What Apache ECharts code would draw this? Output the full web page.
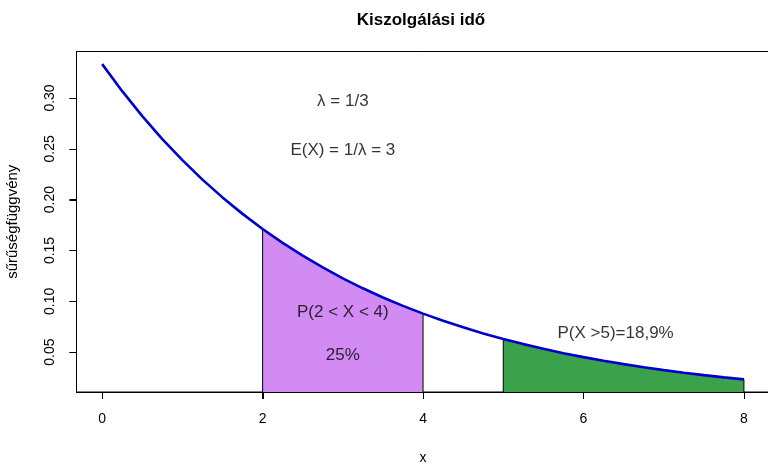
<!DOCTYPE html>
<html>
<head>
<meta charset="utf-8">
<script src="https://cdn.jsdelivr.net/npm/echarts@6/dist/echarts.min.js"></script>
<style>html,body{margin:0;padding:0;background:#fff}#c{width:768px;height:462px}</style>
</head>
<body>
<div id="c"></div>
<script>
// density curve
const xs = [0,0.25,0.5,0.75,1,1.25,1.5,1.75,2,2.25,2.5,2.75,3,3.25,3.5,3.75,4,4.25,4.5,4.75,5,5.25,5.5,5.75,6,6.25,6.5,6.75,7,7.25,7.5,7.75,8];
const ys = [0.3333,0.3067,0.2821,0.2596,0.2388,0.2197,0.2022,0.1860,0.1711,0.1575,0.1449,0.1333,0.1226,0.1128,0.1038,0.0955,0.0879,0.0808,0.0744,0.0684,0.0630,0.0579,0.0533,0.0490,0.0451,0.0415,0.0382,0.0351,0.0323,0.0297,0.0274,0.0252,0.0232];
const xTicks = [0,2,4,6,8];
const yTicks = [0.05,0.10,0.15,0.20,0.25,0.30];
const region1 = [2,4];
const region2 = [5,8];
const annotText = ['λ = 1/3','E(X) = 1/λ = 3','P(2 < X < 4)','25%','P(X >5)=18,9%'];
const annotX = [3,3,3,3,6.4];
const annotY = [0.297,0.249,0.089,0.047,0.069];

const XMIN = -0.32, XMAX = 8.32, YMIN = 0.0108, YMAX = 0.3457;
const curve = xs.map((x,i)=>[x,ys[i]]);
function polygon(a,b){
  const pts = curve.filter(p=>p[0]>=a&&p[0]<=b);
  return [[a,0]].concat(pts,[[b,0]]);
}
const FONT = '"Liberation Sans", Arial, sans-serif';
const TICK = 7;
const chart = echarts.init(document.getElementById('c'), null, {renderer:'canvas'});
chart.setOption({
  animation:false,
  backgroundColor:'#fff',
  title:{text:'Kiszolgálási idő', left:416, top:7, textAlign:'center',
    textStyle:{fontFamily:FONT,fontSize:17,fontWeight:'bold',color:'#000'}},
  grid:{left:76.5, right:-1.6, top:51.5, bottom:70, show:true, borderColor:'#000', borderWidth:1,
    backgroundColor:'transparent', containLabel:false, outerBoundsMode:'none'},
  xAxis:{type:'value', min:XMIN, max:XMAX, name:'x', nameLocation:'middle', nameGap:59,
    nameTextStyle:{fontFamily:FONT,fontSize:14,color:'#000'},
    axisLine:{show:true, onZero:false, lineStyle:{color:'#000',width:1}}, splitLine:{show:false},
    axisTick:{show:true, inside:false, length:TICK, customValues:xTicks, lineStyle:{color:'#000',width:1}},
    axisLabel:{customValues:xTicks, margin:20, fontFamily:FONT, fontSize:14, color:'#000'}},
  yAxis:{type:'value', min:YMIN, max:YMAX, name:'sűrűségfüggvény', nameLocation:'middle', nameGap:56, nameRotate:90,
    nameTextStyle:{fontFamily:FONT,fontSize:15,color:'#000'},
    axisLine:{show:true, onZero:false, lineStyle:{color:'#000',width:1}}, splitLine:{show:false},
    axisTick:{show:true, inside:false, length:TICK, customValues:yTicks, lineStyle:{color:'#000',width:1}},
    axisLabel:{customValues:yTicks, rotate:90, margin:26, align:'center', verticalAlign:'middle',
      fontFamily:FONT, fontSize:14, color:'#000', formatter:v=>v.toFixed(2)}},
  series:[
    {type:'line', data:polygon(region1[0],region1[1]), showSymbol:false, symbol:'none',
      lineStyle:{color:'#000',width:1}, areaStyle:{color:'#D18BF2',opacity:1,origin:'start'}, z:2},
    {type:'line', data:polygon(region2[0],region2[1]), showSymbol:false, symbol:'none',
      lineStyle:{color:'#000',width:1}, areaStyle:{color:'#3BA24B',opacity:1,origin:'start'}, z:2},
    {type:'line', data:curve, showSymbol:false, symbol:'none', lineStyle:{color:'#0000CD',width:2.6}, z:3},
    {type:'scatter', symbolSize:0, z:4,
      data:annotText.map((t,i)=>({value:[annotX[i],annotY[i]], name:t})),
      label:{show:true, position:'inside', formatter:p=>p.name, fontFamily:FONT, fontSize:17, color:'#000'}},
    // tick marks placed through the axis scales (outside the plot box)
    {type:'custom', clip:false, silent:true, z:5,
      data:xTicks.map(v=>[v,YMIN]),
      renderItem:(params, api)=>{
        const p = api.coord([api.value(0), api.value(1)]);
        const x = Math.round(p[0]) + 0.5;
        return {type:'line', shape:{x1:x, y1:p[1], x2:x, y2:p[1]+TICK}, style:{stroke:'#000', lineWidth:1}};
      }},
    {type:'custom', clip:false, silent:true, z:5,
      data:yTicks.map(v=>[XMIN,v]),
      renderItem:(params, api)=>{
        const p = api.coord([api.value(0), api.value(1)]);
        const y = Math.round(p[1]) + 0.5;
        return {type:'line', shape:{x1:p[0], y1:y, x2:p[0]-TICK, y2:y}, style:{stroke:'#000', lineWidth:1}};
      }}
  ]
});
</script>
</body>
</html>
